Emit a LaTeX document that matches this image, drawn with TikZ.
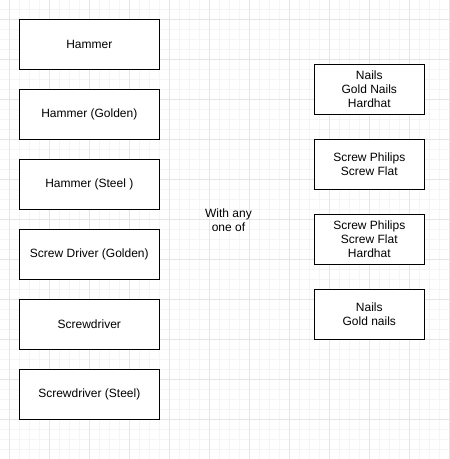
\documentclass[tikz,border=0pt]{standalone}
\usepackage{fontspec}
\setmainfont{Liberation Sans}
\begin{document}
\begin{tikzpicture}[x=1pt,y=-1pt,
  item/.style={draw,line width=1pt,fill=white,minimum width=140pt,minimum height=50pt,inner sep=0pt,align=center,font=\fontsize{12}{14}\selectfont},
  part/.style={item,minimum width=110pt},
  minorgrid/.style={line width=0.8pt,draw=black!4},
  majorgrid/.style={line width=0.8pt,draw=black!10}]

\useasboundingbox (0,0) rectangle (450,459);

% background grid
\foreach \i in {0,...,44} \draw[minorgrid] (9.3+10*\i,0)--(9.3+10*\i,459);
\foreach \i in {0,...,45} \draw[minorgrid] (0,9.3+10*\i)--(450,9.3+10*\i);
\foreach \i in {0,...,11} \draw[majorgrid] (9.3+40*\i,0)--(9.3+40*\i,459);
\foreach \i in {0,...,11} \draw[majorgrid] (0,19.3+40*\i)--(450,19.3+40*\i);

% tools
\node[item] (hammer) at (89.3,44.3) {Hammer};
\node[item] (hammerGolden) at (89.3,114.3) {Hammer (Golden)};
\node[item] (hammerSteel) at (89.3,184.3) {Hammer (Steel )};
\node[item] (driverGolden) at (89.3,254.3) {Screw Driver (Golden)};
\node[item] (driver) at (89.3,324.3) {Screwdriver};
\node[item] (driverSteel) at (89.3,394.3) {Screwdriver (Steel)};

\node[align=center,font=\fontsize{12}{14}\selectfont] (with) at (228.5,220) {With any\\one of};

% parts
\node[part] (nails) at (369.3,89.3) {Nails\\Gold Nails\\Hardhat};
\node[part] (screws) at (369.3,164.3) {Screw Philips\\Screw Flat};
\node[part] (screwsHat) at (369.3,239.3) {Screw Philips\\Screw Flat\\Hardhat};
\node[part] (nailsGold) at (369.3,314.3) {Nails\\Gold nails};

\end{tikzpicture}
\end{document}
